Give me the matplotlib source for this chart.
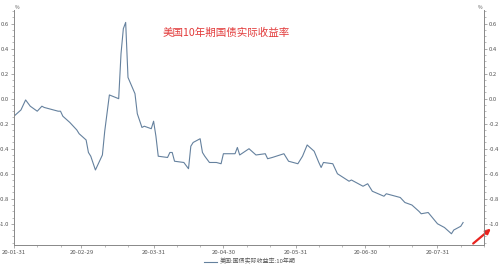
import matplotlib
matplotlib.use('Agg')
import matplotlib.pyplot as plt
import pandas as pd

plt.rcParams['font.family'] = ['Noto Sans CJK SC', 'DejaVu Sans']

dates = ['2020-01-31', '2020-02-03', '2020-02-05', '2020-02-07', '2020-02-10', '2020-02-12',
         '2020-02-13', '2020-02-19', '2020-02-20', '2020-02-21', '2020-02-24', '2020-02-25',
         '2020-02-27', '2020-02-28', '2020-03-02', '2020-03-03', '2020-03-04', '2020-03-06',
         '2020-03-09', '2020-03-10', '2020-03-12', '2020-03-16', '2020-03-17', '2020-03-18',
         '2020-03-19', '2020-03-20', '2020-03-23', '2020-03-24', '2020-03-26', '2020-03-27',
         '2020-03-30', '2020-03-31', '2020-04-01', '2020-04-02', '2020-04-06', '2020-04-07',
         '2020-04-08', '2020-04-09', '2020-04-13', '2020-04-15', '2020-04-16', '2020-04-17',
         '2020-04-20', '2020-04-21', '2020-04-22', '2020-04-24', '2020-04-27', '2020-04-29',
         '2020-04-30', '2020-05-05', '2020-05-06', '2020-05-07', '2020-05-11', '2020-05-14',
         '2020-05-18', '2020-05-19', '2020-05-21', '2020-05-26', '2020-05-28', '2020-06-01',
         '2020-06-03', '2020-06-05', '2020-06-08', '2020-06-10', '2020-06-11', '2020-06-12',
         '2020-06-16', '2020-06-18', '2020-06-23', '2020-06-24', '2020-06-29', '2020-07-01',
         '2020-07-03', '2020-07-08', '2020-07-09', '2020-07-13', '2020-07-15', '2020-07-17',
         '2020-07-20', '2020-07-23', '2020-07-24', '2020-07-27', '2020-07-31', '2020-08-03',
         '2020-08-06', '2020-08-07', '2020-08-10', '2020-08-11']
values = [-0.14, -0.09, -0.01, -0.06, -0.10, -0.06,
          -0.07, -0.10, -0.10, -0.14, -0.19, -0.21,
          -0.25, -0.28, -0.33, -0.43, -0.46, -0.57,
          -0.45, -0.26, 0.03, 0.00, 0.36, 0.56,
          0.61, 0.17, 0.04, -0.12, -0.23, -0.22,
          -0.24, -0.18, -0.30, -0.46, -0.47, -0.43,
          -0.43, -0.50, -0.51, -0.56, -0.38, -0.35,
          -0.32, -0.43, -0.46, -0.51, -0.51, -0.52,
          -0.44, -0.44, -0.39, -0.45, -0.40, -0.45,
          -0.44, -0.48, -0.47, -0.44, -0.50, -0.52,
          -0.46, -0.37, -0.42, -0.51, -0.55, -0.51,
          -0.52, -0.60, -0.66, -0.65, -0.70, -0.68,
          -0.74, -0.78, -0.76, -0.78, -0.79, -0.83,
          -0.85, -0.90, -0.92, -0.91, -1.00, -1.03,
          -1.08, -1.05, -1.02, -0.99]
major_dates = ['2020-01-31', '2020-02-29', '2020-03-31', '2020-04-30',
               '2020-05-31', '2020-06-30', '2020-07-31']
title = '美国10年期国债实际收益率'
series_name = '美国:国债实际收益率:10年期'

x = pd.to_datetime(dates)

fig = plt.figure(figsize=(4.99, 2.75), dpi=100)
ax = fig.add_axes([0.028, 0.109, 0.942, 0.855])
ax.plot(x, values, color='#65819e', lw=0.8, label=series_name)

ax.set_xlim(pd.Timestamp('2020-01-31'), pd.Timestamp('2020-08-11 12:00'))
ax.set_ylim(-1.17, 0.71)

# month-end major ticks, minor ticks on 10th/20th
majors = pd.to_datetime(major_dates)
minors = [d for m in range(2, 9) for d in (pd.Timestamp(2020, m, 10), pd.Timestamp(2020, m, 20))]
ax.set_xticks(majors)
ax.set_xticklabels([d.strftime('%y-%m-%d') for d in majors])
ax.set_xticks(minors, minor=True)

yt = [-1.0, -0.8, -0.6, -0.4, -0.2, 0.0, 0.2, 0.4, 0.6]
ax.set_yticks(yt)
ax.set_yticklabels(['%.1f' % v for v in yt])
ax.yaxis.set_minor_locator(matplotlib.ticker.MultipleLocator(0.05))

ax2 = ax.twinx()
ax2.set_ylim(ax.get_ylim())
ax2.set_yticks(yt)
ax2.set_yticklabels(['%.1f' % v for v in yt])
ax2.yaxis.set_minor_locator(matplotlib.ticker.MultipleLocator(0.05))

for a in (ax, ax2):
    a.spines['top'].set_visible(False)
    for s in ('left', 'right', 'bottom'):
        a.spines[s].set_color('#888888')
        a.spines[s].set_linewidth(0.6)
    a.tick_params(which='major', length=2.5, width=0.5, color='#888888',
                  labelsize=4.3, labelcolor='#555555', pad=1)
    a.tick_params(which='minor', length=1.5, width=0.4, color='#888888')

fig.text(0.030, 0.965, '%', fontsize=3.5, color='#555555', ha='left', va='bottom')
fig.text(0.966, 0.965, '%', fontsize=3.5, color='#555555', ha='right', va='bottom')

fig.text(0.325, 0.88, title, fontsize=7.6, color='#e23a3a', ha='left', va='center')

fig.legend(loc='center', bbox_to_anchor=(0.50, 0.048), frameon=False, fontsize=4.3,
           handlelength=2.2, handletextpad=0.5, labelcolor='#555555')

# red arrow at the bottom right
ax.annotate('', xy=(0.988, 0.175), xytext=(0.944, 0.108), xycoords='figure fraction',
            textcoords='figure fraction',
            arrowprops=dict(arrowstyle='-|>', color='#e8231f', lw=1.6, mutation_scale=7))

fig.savefig('out.png', dpi=100)
